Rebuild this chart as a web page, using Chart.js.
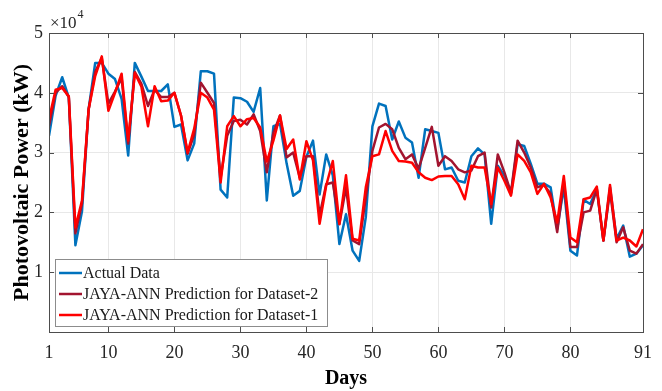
<!DOCTYPE html>
<html>
<head>
<meta charset="utf-8">
<script src="https://cdn.jsdelivr.net/npm/chart.js@4/dist/chart.umd.min.js"></script>
<style>
  html, body { margin: 0; padding: 0; background: #fff; }
  #wrap { width: 662px; height: 391px; }
</style>
</head>
<body>
<div id="wrap"><canvas id="pvChart" width="662" height="391"></canvas></div>
<script>
// values in units of 10^4 kW, one per day
const actualData = [
  3.28, 3.95, 4.26, 3.92, 1.45, 2.02, 3.72, 4.50, 4.50, 4.32,
  4.23, 3.90, 2.95, 4.50, 4.27, 4.03, 4.03, 4.03, 4.14, 3.43,
  3.47, 2.87, 3.15, 4.36, 4.36, 4.32, 2.38, 2.25, 3.92, 3.91,
  3.85, 3.68, 4.08, 2.20, 3.44, 3.48, 2.82, 2.28, 2.36, 2.93,
  3.20, 2.30, 2.97, 2.62, 1.47, 1.97, 1.36, 1.19, 1.92, 3.44,
  3.82, 3.78, 3.22, 3.52, 3.25, 3.17, 2.58, 3.39, 3.36, 3.33,
  2.72, 2.75, 2.53, 2.50, 2.94, 3.07, 2.97, 1.81, 2.78, 2.61,
  2.31, 3.14, 3.11, 2.81, 2.48, 2.48, 2.42, 1.72, 2.42, 1.36,
  1.28, 2.21, 2.14, 2.39, 1.53, 2.42, 1.56, 1.78, 1.26, 1.31,
  1.45
];
const predDataset2 = [
  3.45, 4.00, 4.11, 3.93, 1.65, 2.15, 3.72, 4.35, 4.58, 3.82,
  4.02, 4.25, 3.15, 4.35, 4.15, 3.78, 4.05, 3.93, 3.93, 4.00,
  3.62, 2.98, 3.30, 4.17, 4.00, 3.83, 2.58, 3.28, 3.53, 3.55,
  3.47, 3.64, 3.36, 2.67, 3.33, 3.62, 2.92, 3.00, 2.58, 2.94,
  2.94, 1.95, 2.47, 2.50, 1.80, 2.42, 1.53, 1.47, 2.25, 3.03,
  3.42, 3.48, 3.39, 3.08, 2.89, 2.97, 2.73, 3.08, 3.43, 2.78,
  2.94, 2.86, 2.72, 2.67, 2.70, 2.94, 3.00, 2.08, 2.97, 2.67,
  2.33, 3.20, 3.00, 2.75, 2.42, 2.46, 2.31, 1.67, 2.53, 1.42,
  1.42, 2.00, 2.03, 2.39, 1.53, 2.36, 1.50, 1.75, 1.36, 1.31,
  1.47
];
const predDataset1 = [
  3.56, 4.05, 4.08, 3.94, 1.75, 2.20, 3.72, 4.28, 4.61, 3.70,
  4.00, 4.32, 3.20, 4.33, 4.10, 3.44, 4.11, 3.86, 3.87, 4.00,
  3.62, 3.00, 3.40, 4.00, 3.92, 3.72, 2.50, 3.44, 3.61, 3.44,
  3.56, 3.58, 3.42, 2.85, 3.20, 3.62, 3.06, 3.22, 2.55, 3.19,
  2.87, 1.81, 2.45, 2.86, 1.81, 2.62, 1.56, 1.53, 2.42, 2.94,
  2.97, 3.36, 3.03, 2.86, 2.85, 2.83, 2.67, 2.58, 2.54, 2.60,
  2.61, 2.61, 2.47, 2.22, 2.78, 2.75, 2.75, 2.14, 2.75, 2.53,
  2.28, 2.97, 2.86, 2.67, 2.31, 2.48, 2.25, 1.83, 2.61, 1.58,
  1.50, 2.22, 2.25, 2.43, 1.53, 2.46, 1.53, 1.58, 1.53, 1.43,
  1.72
];
const days = actualData.map((_, i) => i + 1);
const xTickValues = [1, 10, 20, 30, 40, 50, 60, 70, 80, 91];
const yTickValues = [1, 2, 3, 4, 5];
const seriesLabels = ["Actual Data", "JAYA-ANN Prediction for Dataset-2", "JAYA-ANN Prediction for Dataset-1"];
const seriesColors = ["rgb(0,114,189)", "rgb(162,20,47)", "rgb(255,0,0)"];

const serif = "'Liberation Serif', 'DejaVu Serif', serif";
const toPoints = arr => arr.map((v, i) => ({ x: days[i], y: v }));

// frame, inner ticks, exponent label and legend box (MATLAB style)
const matlabDecor = {
  id: "matlabDecor",
  afterDatasetsDraw(chart) {
    const { ctx, chartArea: a, scales } = chart;
    ctx.save();
    ctx.strokeStyle = "#4d4d4d";
    ctx.lineWidth = 1;
    ctx.beginPath();
    xTickValues.forEach(t => {
      const px = Math.round(scales.x.getPixelForValue(t)) + 0.5;
      ctx.moveTo(px, a.bottom); ctx.lineTo(px, a.bottom - 5);
      ctx.moveTo(px, a.top); ctx.lineTo(px, a.top + 5);
    });
    yTickValues.forEach(t => {
      const py = Math.round(scales.y.getPixelForValue(t)) + 0.5;
      ctx.moveTo(a.left, py); ctx.lineTo(a.left + 5, py);
      ctx.moveTo(a.right, py); ctx.lineTo(a.right - 5, py);
    });
    ctx.stroke();
    ctx.strokeRect(Math.round(a.left) + 0.5, Math.round(a.top) + 0.5,
      Math.round(a.right - a.left), Math.round(a.bottom - a.top));

    // x10^4 exponent
    ctx.fillStyle = "#262626";
    ctx.textBaseline = "alphabetic";
    ctx.textAlign = "left";
    ctx.font = "17px " + serif;
    ctx.fillText("\u00d710", 50, 28);
    const w = ctx.measureText("\u00d710").width;
    ctx.font = "12px " + serif;
    ctx.fillText("4", 50 + w + 1, 18);

    // legend
    const lx = a.left + 6, ly = a.bottom - 73, lw = 272, lh = 67;
    ctx.fillStyle = "#fff";
    ctx.fillRect(lx, ly, lw, lh);
    ctx.strokeStyle = "#8c8c8c";
    ctx.strokeRect(lx + 0.5, ly + 0.5, lw, lh);
    ctx.font = "16px " + serif;
    ctx.textBaseline = "middle";
    seriesLabels.forEach((lab, i) => {
      const y = ly + 14 + i * 21;
      ctx.strokeStyle = seriesColors[i];
      ctx.lineWidth = 2.5;
      ctx.beginPath();
      ctx.moveTo(lx + 4, y); ctx.lineTo(lx + 27, y);
      ctx.stroke();
      ctx.fillStyle = "#1a1a1a";
      ctx.fillText(lab, lx + 28, y + 1);
    });
    ctx.restore();
  }
};

new Chart(document.getElementById("pvChart"), {
  type: "line",
  data: {
    datasets: [
      { label: seriesLabels[0], data: toPoints(actualData), borderColor: seriesColors[0], order: 3 },
      { label: seriesLabels[1], data: toPoints(predDataset2), borderColor: seriesColors[1], order: 2 },
      { label: seriesLabels[2], data: toPoints(predDataset1), borderColor: seriesColors[2], order: 1 }
    ]
  },
  options: {
    responsive: false,
    animation: false,
    devicePixelRatio: 1,
    layout: { padding: { top: 33, right: 17, bottom: 0, left: 0 } },
    elements: {
      line: { borderWidth: 2.5, tension: 0, borderJoinStyle: "round" },
      point: { radius: 0 }
    },
    plugins: {
      legend: { display: false },
      tooltip: { enabled: false }
    },
    scales: {
      x: {
        type: "linear",
        min: 1,
        max: 91,
        afterBuildTicks: s => { s.ticks = xTickValues.map(v => ({ value: v })); },
        afterFit: s => { s.height = 59; },
        grid: { color: "#e8e8e8", drawTicks: false },
        border: { display: false },
        ticks: { padding: 10, color: "#262626", font: { family: serif, size: 18 }, maxRotation: 0 },
        title: { display: true, text: "Days", color: "#000", padding: { top: 0, bottom: 0 },
          font: { family: serif, size: 20, weight: "bold" } }
      },
      y: {
        min: 0,
        max: 5,
        afterBuildTicks: s => { s.ticks = yTickValues.map(v => ({ value: v })); },
        afterFit: s => { s.width = 49; },
        grid: { color: "#e8e8e8", drawTicks: false },
        border: { display: false },
        ticks: { padding: 6, color: "#262626", font: { family: serif, size: 18 } },
        title: { display: true, text: "Photovoltaic Power (kW)", color: "#000", padding: { top: 9, bottom: 0 },
          font: { family: serif, size: 22, weight: "bold" } }
      }
    }
  },
  plugins: [matlabDecor]
});
</script>
</body>
</html>
